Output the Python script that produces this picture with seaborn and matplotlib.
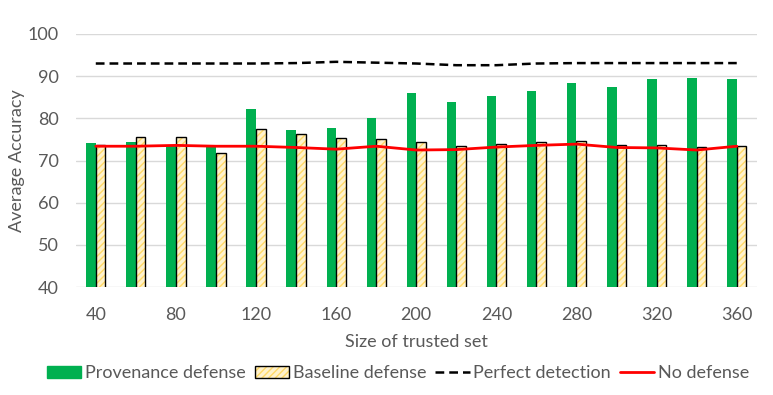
import numpy as np
import pandas as pd
import seaborn as sns
import matplotlib.pyplot as plt
from matplotlib.patches import Patch, Rectangle
from matplotlib.lines import Line2D

# values
sizes = [40, 60, 80, 100, 120, 140, 160, 180, 200, 220, 240, 260, 280, 300, 320, 340, 360]
provenance = [74.2, 74.5, 73.6, 73.1, 82.3, 77.2, 77.8, 80.0, 86.0, 83.9, 85.4, 86.6, 88.4, 87.5, 89.3, 89.6, 89.3]
baseline = [73.8, 75.6, 75.6, 71.9, 77.4, 76.2, 75.3, 75.0, 74.4, 73.5, 74.0, 74.4, 74.7, 73.8, 73.8, 73.2, 73.5]
perfect = [93.0, 93.0, 93.0, 93.0, 93.0, 93.1, 93.4, 93.2, 93.0, 92.6, 92.6, 93.0, 93.1, 93.1, 93.1, 93.1, 93.1]
no_defense = [73.4, 73.4, 73.6, 73.4, 73.4, 73.1, 72.7, 73.4, 72.5, 72.6, 73.2, 73.6, 73.9, 73.1, 73.0, 72.5, 73.4]
series_names = ["Provenance defense", "Baseline defense", "Perfect detection", "No defense"]

green = "#00B050"
cream = "#FFF2CC"
hatch_col = "#FFD966"
txt = "#595959"

sns.set_style("white")
plt.rcParams['font.family'] = ['Lato', 'DejaVu Sans']
plt.rcParams['hatch.linewidth'] = 1.0

df = pd.DataFrame({
    "size": sizes * 2,
    "acc": provenance + baseline,
    "defense": [series_names[0]] * len(sizes) + [series_names[1]] * len(sizes),
})

fig = plt.figure(figsize=(7.73, 3.95), dpi=100)
ax = fig.add_axes([0.098, 0.273, 0.881, 0.641])

sns.barplot(data=df, x="size", y="acc", hue="defense", palette=[green, cream],
            saturation=1, width=0.48, gap=0, legend=False, ax=ax, zorder=2)

n = len(sizes)
for i, p in enumerate(ax.patches):
    if i < n:
        p.set_edgecolor(green)
        p.set_linewidth(0)
    else:
        p.set_hatch("/////")
        p.set_edgecolor(hatch_col)
        p.set_linewidth(0)
        ax.add_patch(Rectangle(p.get_xy(), p.get_width(), p.get_height(), fill=False,
                               edgecolor="black", linewidth=1.0, zorder=3))

pos = np.arange(n)
sns.lineplot(x=pos, y=perfect, color="black", linestyle=(0, (3.5, 2)), linewidth=1.8, ax=ax, zorder=4)
sns.lineplot(x=pos, y=no_defense, color="#FF0000", linewidth=2, ax=ax, zorder=4)

ax.set_ylim(40, 100)
ax.set_xlim(-0.5, n - 0.5)
ax.set_yticks(range(40, 101, 10))
ax.set_xticks(pos[::2])
ax.set_xticklabels(sizes[::2])
ax.yaxis.grid(True, color="#D9D9D9", linewidth=1)
ax.set_axisbelow(True)
for s in ax.spines.values():
    s.set_visible(False)
ax.tick_params(axis="both", length=0, labelsize=13, labelcolor=txt)
ax.tick_params(axis="x", pad=14)
ax.tick_params(axis="y", pad=12)
ax.set_xlabel("Size of trusted set", fontsize=13, color=txt, labelpad=8)
ax.set_ylabel("Average Accuracy", fontsize=13, color=txt, labelpad=2)

handles = [
    Patch(facecolor=green, edgecolor=green),
    (Patch(facecolor=cream, edgecolor=hatch_col, hatch="/////", linewidth=0),
     Patch(fill=False, edgecolor="black", linewidth=1.0)),
    Line2D([0], [0], color="black", linestyle=(0, (3.5, 2)), linewidth=1.8),
    Line2D([0], [0], color="#FF0000", linewidth=2),
]
leg = fig.legend(handles, series_names, loc="center", bbox_to_anchor=(0.515, 0.055), ncol=4,
                 frameon=False, fontsize=13, handlelength=1.9, handleheight=0.6,
                 handletextpad=0.2, columnspacing=0.5)
for t in leg.get_texts():
    t.set_color(txt)

fig.savefig("out.png", dpi=100)
